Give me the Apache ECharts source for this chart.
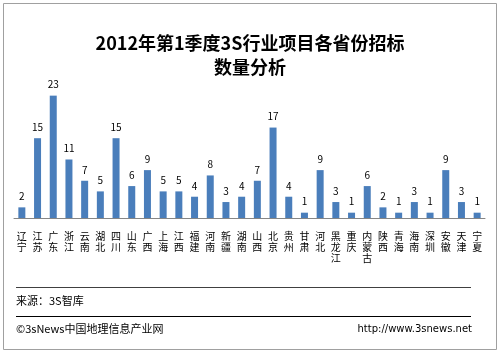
<!DOCTYPE html>
<html lang="zh">
<head>
<meta charset="UTF-8">
<script src="https://cdn.jsdelivr.net/npm/echarts@6/dist/echarts.min.js"></script>
<style>
  html, body { margin: 0; padding: 0; background: #fff; }
  #chart { width: 500px; height: 353px; }
</style>
</head>
<body>
<div id="chart"></div>
<script>
  const provinces = ['辽宁', '江苏', '广东', '浙江', '云南', '湖北', '四川', '山东', '广西', '上海',
    '江西', '福建', '河南', '新疆', '湖南', '山西', '北京', '贵州', '甘肃', '河北',
    '黑龙江', '重庆', '内蒙古', '陕西', '青海', '海南', '深圳', '安徽', '天津', '宁夏'];
  const counts = [2, 15, 23, 11, 7, 5, 15, 6, 9, 5,
    5, 4, 8, 3, 4, 7, 17, 4, 1, 9,
    3, 1, 6, 2, 1, 3, 1, 9, 3, 1];

  const font = '"Noto Sans CJK SC", "DejaVu Sans", sans-serif';
  let chart = echarts.init(document.getElementById('chart'));

  let option = {
    animation: false,
    title: {
      left: 'center',
      top: 26,
      text: '2012年第1季度3S行业项目各省份招标\n数量分析',
      textStyle: {
        fontFamily: font,
        fontSize: 18,
        fontWeight: 'bold',
        color: '#000',
        lineHeight: 24
      }
    },
    grid: {
      left: 14,
      right: 15,
      top: 85,
      bottom: 135,
      containLabel: false
    },
    xAxis: {
      type: 'category',
      data: provinces,
      axisLine: { lineStyle: { color: '#868686' } },
      axisTick: { show: false },
      axisLabel: {
        interval: 0,
        margin: 13,
        fontFamily: font,
        fontSize: 10,
        lineHeight: 11,
        color: '#000',
        verticalAlign: 'top',
        formatter: v => v.split('').join('\n')
      }
    },
    yAxis: {
      type: 'value',
      min: 0,
      max: 25,
      show: false,
      splitLine: { show: false }
    },
    series: [{
      type: 'bar',
      data: counts,
      barWidth: 7,
      itemStyle: { color: '#4a7ebb' },
      label: {
        show: true,
        position: 'top',
        distance: 6,
        fontFamily: font,
        fontSize: 10,
        color: '#000'
      }
    }],
    graphic: [
      {
        type: 'rect',
        shape: { x: 3.5, y: 3.5, width: 493, height: 346 },
        style: { fill: null, stroke: '#a0a0a0', lineWidth: 1 }
      },
      {
        type: 'line',
        shape: { x1: 16, y1: 287.5, x2: 471, y2: 287.5 },
        style: { stroke: '#404040', lineWidth: 1 }
      },
      {
        type: 'text',
        left: 16,
        top: 295,
        style: { text: '来源：3S智库', font: '11px ' + font, fill: '#000' }
      },
      {
        type: 'line',
        shape: { x1: 16, y1: 316.5, x2: 471, y2: 316.5 },
        style: { stroke: '#000', lineWidth: 1 }
      },
      {
        type: 'text',
        left: 16,
        top: 323,
        style: { text: '©3sNews中国地理信息产业网', font: '11px ' + font, fill: '#000' }
      },
      {
        type: 'text',
        right: 28,
        top: 324,
        style: { text: 'http://www.3snews.net', font: '10px "DejaVu Sans", sans-serif', fill: '#000' }
      }
    ]
  };
  chart.setOption(option);
</script>
</body>
</html>
